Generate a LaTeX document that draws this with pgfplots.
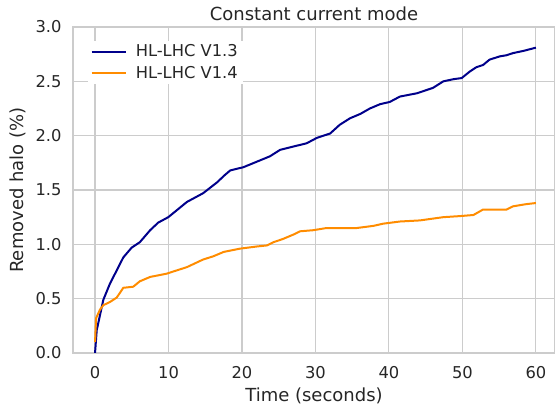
\documentclass[border=0pt]{standalone}
\usepackage{fontspec}
\setmainfont{DejaVu Sans}
\usepackage{pgfplots}
\pgfplotsset{compat=1.18}
\definecolor{gridc}{HTML}{CCCCCC}
\definecolor{txt}{HTML}{262626}
\definecolor{navyc}{HTML}{00008B}
\definecolor{orangec}{HTML}{FF8C00}
\begin{document}
\begin{tikzpicture}
\begin{axis}[
  scale only axis,
  width=482pt, height=326pt,
  xmin=-3, xmax=62.6, ymin=0, ymax=3,
  xtick={0,10,20,30,40,50,60},
  ytick={0,0.5,1,1.5,2,2.5,3},
  yticklabel style={anchor=east, xshift=-8pt, /pgf/number format/.cd,fixed,fixed zerofill,precision=1},
  /pgf/number format/assume math mode=true,
  grid=major,
  major grid style={gridc, line width=1.1pt},
  axis line style={gridc, line width=1.3pt},
  tick style={draw=none},
  ticklabel style={font=\fontsize{16.3}{19}\selectfont, text=txt},
  xticklabel style={anchor=north, yshift=-9.5pt},
  xlabel={Time (seconds)}, ylabel={Removed halo (\%)},
  label style={font=\fontsize{18}{21}\selectfont, text=txt},
  xlabel style={at={([yshift=-42.5pt]axis description cs:0.5,0)}, anchor=center},
  ylabel style={at={([xshift=-55pt]axis description cs:0,0.5)}, anchor=center},
  title={Constant current mode},
  title style={font=\fontsize{18}{21}\selectfont, text=txt, at={([yshift=13pt]axis description cs:0.5,1)}, anchor=center, yshift=-6pt},
  legend style={at={(0.03,0.958)}, anchor=north west, draw=none, fill=white,
    font=\fontsize{16.3}{19}\selectfont, text=txt, row sep=4pt, column sep=7pt},
  legend cell align=left,
  legend image code/.code={\draw[#1, line width=2pt] (0cm,0cm) -- (1.2cm,0cm);},
]
\addplot[navyc, line width=2pt] coordinates {
(0,0) (0.23,0.21) (1.13,0.49) (2.04,0.64) (2.95,0.76) (3.85,0.88) (4.99,0.97) (6.1,1.02)
(7.5,1.13) (8.6,1.20) (9.97,1.25) (11.6,1.34) (12.5,1.39) (14.7,1.47) (16.6,1.57) (17.7,1.64)
(18.4,1.68) (20.2,1.71) (22.0,1.76) (23.8,1.81) (25.2,1.87) (27.0,1.90) (28.8,1.93) (30.2,1.98)
(32.0,2.02) (33.3,2.10) (34.7,2.16) (36.1,2.20) (37.4,2.25) (38.8,2.29) (40.1,2.31) (41.5,2.36)
(43.8,2.39) (46.0,2.44) (47.4,2.50) (48.8,2.52) (49.9,2.53) (51.0,2.59) (51.9,2.63) (52.8,2.65)
(53.7,2.70) (55.1,2.73) (56.0,2.74) (56.9,2.76) (58.3,2.78) (60,2.81)
};
\addlegendentry{HL-LHC V1.3}
\addplot[orangec, line width=2pt] coordinates {
(0,0.10) (0.14,0.32) (0.68,0.40) (1.13,0.44) (2.04,0.47) (2.95,0.51) (3.85,0.60) (5.2,0.61)
(6.1,0.66) (7.5,0.70) (9.75,0.73) (10.65,0.75) (12.5,0.79) (14.7,0.86) (16.1,0.89) (17.5,0.93)
(19.7,0.96) (22.0,0.98) (23.4,0.99) (24.3,1.02) (25.6,1.05) (27.0,1.09) (27.9,1.12) (29.7,1.13)
(31.5,1.15) (35.6,1.15) (37.9,1.17) (39.2,1.19) (41.5,1.21) (44.2,1.22) (47.4,1.25) (49.7,1.26)
(51.5,1.27) (52.8,1.32) (56.0,1.32) (56.9,1.35) (58.7,1.37) (60,1.38)
};
\addlegendentry{HL-LHC V1.4}
\end{axis}
\pgfresetboundingbox
\path ([xshift=-73pt,yshift=-54pt]current axis.south west) rectangle ([yshift=27pt]current axis.north east);
\end{tikzpicture}
\end{document}
